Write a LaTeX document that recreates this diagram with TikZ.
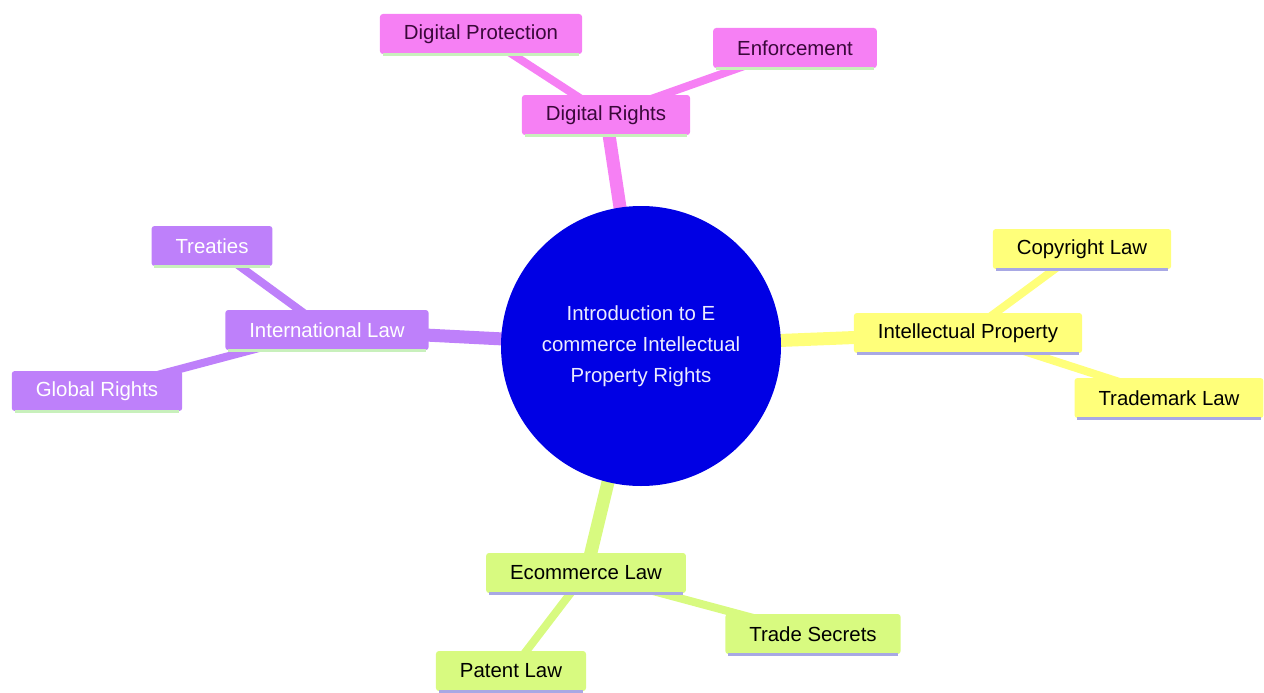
\documentclass[tikz,border=0pt]{standalone}
\usepackage{fontspec}
\setmainfont{Liberation Sans}
\usetikzlibrary{backgrounds}
\definecolor{rootblue}{RGB}{0,0,228}
\definecolor{pinkfill}{RGB}{246,128,244}
\definecolor{yellowfill}{RGB}{255,255,122}
\definecolor{greenfill}{RGB}{216,250,128}
\definecolor{purplefill}{RGB}{190,128,250}
\definecolor{pinktext}{RGB}{58,8,58}
\definecolor{lightgreenline}{RGB}{200,240,188}
\definecolor{lavline}{RGB}{168,168,228}
\begin{document}
\begin{tikzpicture}[x=1pt,y=-1pt, line cap=round, line join=round,
	font=\fontsize{20.4}{31}\selectfont,
	box/.style={rectangle, rounded corners=3pt, inner xsep=24pt, inner ysep=0pt, minimum height=40pt},
	pinkbox/.style={box, fill=pinkfill, text=pinktext},
	yellowbox/.style={box, fill=yellowfill, text=black},
	greenbox/.style={box, fill=greenfill, text=black},
	purplebox/.style={box, fill=purplefill, text=white},
	trunk/.style={line width=13pt, line cap=butt},
	twig/.style={line width=8pt, line cap=butt},
	uline/.style={line width=3pt, line cap=butt}]
	\useasboundingbox (0,0) rectangle (1264,693);
	% root
	\node[circle, fill=rootblue, minimum size=280pt, inner sep=0pt, text=white!92!blue, align=center] (root) at (641,346)
		{Introduction to E\\commerce Intellectual\\Property Rights};
	% branches
	\foreach \n/\x/\y/\t in {dright/606/115/Digital Rights,dprot/481/34/Digital Protection,enf/795/48/Enforcement}
		\node[pinkbox] (\n) at (\x,\y) {\t};
	\foreach \n/\x/\y/\t in {ipr/968/333/Intellectual Property,copy/1082/249/Copyright Law,trade/1169/398/Trademark Law}
		\node[yellowbox] (\n) at (\x,\y) {\t};
	\foreach \n/\x/\y/\t in {ecom/586/573/Ecommerce Law,secr/813/634/Trade Secrets,pat/511/671/Patent Law}
		\node[greenbox] (\n) at (\x,\y) {\t};
	\foreach \n/\x/\y/\t in {intl/327/330/International Law,treat/212/246/Treaties,glob/97/391/Global Rights}
		\node[purplebox] (\n) at (\x,\y) {\t};
	% underlines
	\foreach \n in {dright,dprot,enf,intl,treat,glob}
		\draw[uline, lightgreenline] ([xshift=3pt]\n.south west)--([xshift=-3pt]\n.south east);
	\foreach \n in {ipr,copy,trade,ecom,secr,pat}
		\draw[uline, lavline] ([xshift=3pt]\n.south west)--([xshift=-3pt]\n.south east);
	% connectors
	\begin{scope}[on background layer]
		\foreach \n/\c in {dright/pinkfill,ipr/yellowfill,ecom/greenfill,intl/purplefill}
			\draw[trunk, \c] (root.center)--(\n.center);
		\foreach \a/\b/\c in {dright/dprot/pinkfill,dright/enf/pinkfill,ipr/copy/yellowfill,ipr/trade/yellowfill,
			ecom/secr/greenfill,ecom/pat/greenfill,intl/treat/purplefill,intl/glob/purplefill}
			\draw[twig, \c] (\a.center)--(\b.center);
	\end{scope}
\end{tikzpicture}
\end{document}
